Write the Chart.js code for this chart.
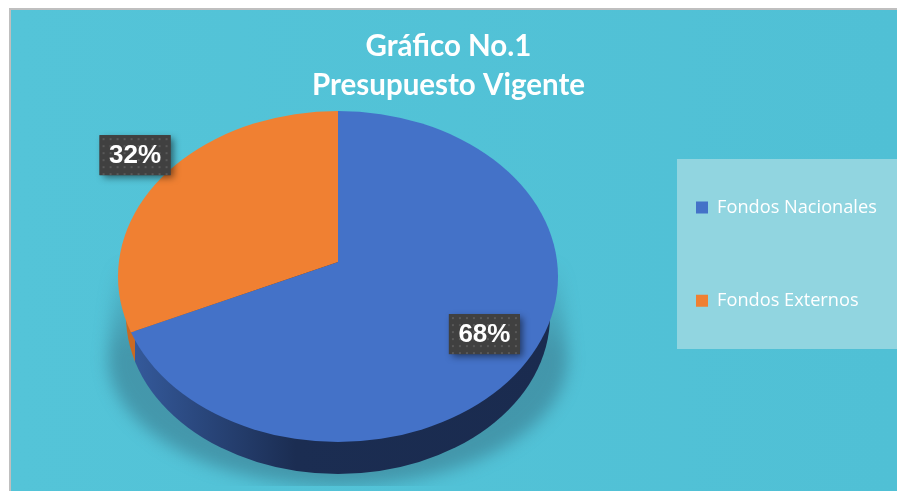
<!DOCTYPE html>
<html>
<head>
<meta charset="utf-8">
<style>html,body{margin:0;padding:0;background:#fff}canvas{display:block}</style>
<script src="https://cdn.jsdelivr.net/npm/chart.js@4"></script>
</head>
<body>
<canvas id="c" width="897" height="491"></canvas>
<script>
const categories = ['Fondos Nacionales', 'Fondos Externos'];
const values = [68, 32];
const sliceColors = ['#4472c8', '#f08032'];
const titleLines = ['Gráfico No.1', 'Presupuesto Vigente'];
const labelRadial = [0.695, 0.985];
const labelNudgeDeg = [1.9, 3.7];

const apex = {x: 338, y: 262};
const tilt = 0.722;
const reach = 255;
const topEllipse = {x: 338, y: 276.5, rx: 220, ry: 165.5};
const lowEllipse = {x: 338, y: 316, rx: 212, ry: 158};

function ellipsePath(ctx, e) {
  ctx.beginPath();
  ctx.ellipse(e.x, e.y, e.rx, e.ry, 0, 0, Math.PI * 2);
}

function dotPattern(ctx) {
  const t = document.createElement('canvas');
  t.width = 7; t.height = 7;
  const g = t.getContext('2d');
  g.fillStyle = '#404040'; g.fillRect(0, 0, 7, 7);
  g.fillStyle = '#595959'; g.fillRect(3, 3, 2, 2);
  return ctx.createPattern(t, 'repeat');
}

const scene = {
  id: 'scene',
  beforeDraw(chart) {
    const ctx = chart.ctx;
    ctx.save();
    ctx.fillStyle = '#fff'; ctx.fillRect(0, 0, 897, 491);
    ctx.fillStyle = '#bfbfbf'; ctx.fillRect(9, 8, 888, 483);
    const bg = ctx.createLinearGradient(11, 0, 897, 0);
    bg.addColorStop(0, '#54c4d8'); bg.addColorStop(1, '#50c0d5');
    ctx.fillStyle = bg; ctx.fillRect(11, 10, 886, 481);
    ctx.fillStyle = '#91d5e0'; ctx.fillRect(677, 159, 220, 190);
    ctx.restore();
  },
  afterLayout(chart) {
    const lg = chart.legend, p = lg.options.labels.padding;
    lg.left = 696 - p; lg.right = 897; lg.top = 198.5 - p; lg.bottom = 491;
  },
  beforeDatasetsDraw(chart) {
    const ctx = chart.ctx;
    const meta = chart.getDatasetMeta(0);
    const a0 = meta.data[0];
    // drop shadow
    ctx.save();
    ctx.beginPath(); ctx.rect(85, 245, 510, 241); ctx.clip();
    ctx.filter = 'blur(8px)';
    const sh = ctx.createLinearGradient(0, 262, 0, 350);
    sh.addColorStop(0, 'rgba(50,100,120,0)');
    sh.addColorStop(1, 'rgba(50,100,120,0.46)');
    ctx.fillStyle = sh;
    ctx.beginPath();
    ctx.moveTo(116, 262);
    ctx.lineTo(560, 262);
    ctx.lineTo(568, 358);
    ctx.ellipse(338, 358, 230, 128, 0, 0, Math.PI);
    ctx.closePath();
    ctx.fill();
    ctx.restore();
    // side wall, split where the slice boundary meets the rim
    const endA = a0.endAngle + Math.PI / 2;
    let t = 0, bx = apex.x;
    while (t < 400) {
      const px = apex.x + t * Math.sin(endA), py = apex.y - t * tilt * Math.cos(endA);
      const u = (px - topEllipse.x) / topEllipse.rx, v = (py - topEllipse.y) / topEllipse.ry;
      if (u * u + v * v > 1) break;
      bx = px; t += 0.5;
    }
    ctx.save();
    const w = ctx.createLinearGradient(lowEllipse.x - lowEllipse.rx, 0, lowEllipse.x + lowEllipse.rx, 0);
    const span = 2 * lowEllipse.rx, stop = (bx + 4 - (lowEllipse.x - lowEllipse.rx)) / span;
    w.addColorStop(0, '#c96a22'); w.addColorStop(stop, '#c96a22');
    w.addColorStop(stop, '#34599a'); w.addColorStop(0.4, '#1b2d52'); w.addColorStop(1, '#1a2b4f');
    ctx.fillStyle = w;
    ellipsePath(ctx, lowEllipse); ctx.fill();
    ctx.restore();
    // top face: library arcs seen through the tilted view
    const s = reach / a0.outerRadius;
    ctx.save();
    ellipsePath(ctx, topEllipse); ctx.clip();
    ctx.translate(apex.x, apex.y);
    ctx.scale(s, s * tilt);
    ctx.translate(-a0.x, -a0.y);
  },
  afterDatasetsDraw(chart) {
    chart.ctx.restore();
  },
  afterDraw(chart) {
    const ctx = chart.ctx;
    const meta = chart.getDatasetMeta(0);
    const fill = dotPattern(ctx);
    meta.data.forEach((arc, i) => {
      const mid = (arc.startAngle + arc.endAngle) / 2 + Math.PI / 2 + labelNudgeDeg[i] * Math.PI / 180;
      const r = reach * labelRadial[i];
      const cx = apex.x + r * Math.sin(mid), cy = apex.y - r * tilt * Math.cos(mid);
      const bw = 71, bh = 40;
      ctx.save();
      ctx.shadowColor = 'rgba(0,0,0,0.5)';
      ctx.shadowBlur = 7; ctx.shadowOffsetX = 3; ctx.shadowOffsetY = 3;
      ctx.fillStyle = '#404040';
      ctx.fillRect(cx - bw / 2, cy - bh / 2, bw, bh);
      ctx.restore();
      ctx.save();
      ctx.translate(cx - bw / 2, cy - bh / 2);
      ctx.fillStyle = fill;
      ctx.fillRect(0, 0, bw, bh);
      ctx.restore();
      ctx.save();
      ctx.fillStyle = '#fff';
      ctx.font = 'bold 26px "Liberation Sans"';
      ctx.textAlign = 'center'; ctx.textBaseline = 'middle';
      ctx.fillText(values[i] + '%', cx, cy + 1);
      ctx.restore();
    });
  }
};

new Chart(document.getElementById('c'), {
  type: 'pie',
  data: {
    labels: categories,
    datasets: [{data: values, backgroundColor: sliceColors, borderWidth: 0, clip: 2000}]
  },
  plugins: [scene],
  options: {
    responsive: false,
    animation: false,
    plugins: {
      tooltip: {enabled: false},
      title: {
        display: true,
        text: titleLines,
        color: '#fff',
        font: {family: 'Lato', size: 29.5, weight: 'bold', lineHeight: 1.322},
        padding: {top: 27, bottom: 4}
      },
      legend: {
        position: 'right',
        align: 'start',
        labels: {
          color: '#fff',
          boxWidth: 12,
          boxHeight: 12,
          padding: 75,
          font: {family: 'Open Sans', size: 18.2}
        }
      }
    }
  }
});
</script>
</body>
</html>
